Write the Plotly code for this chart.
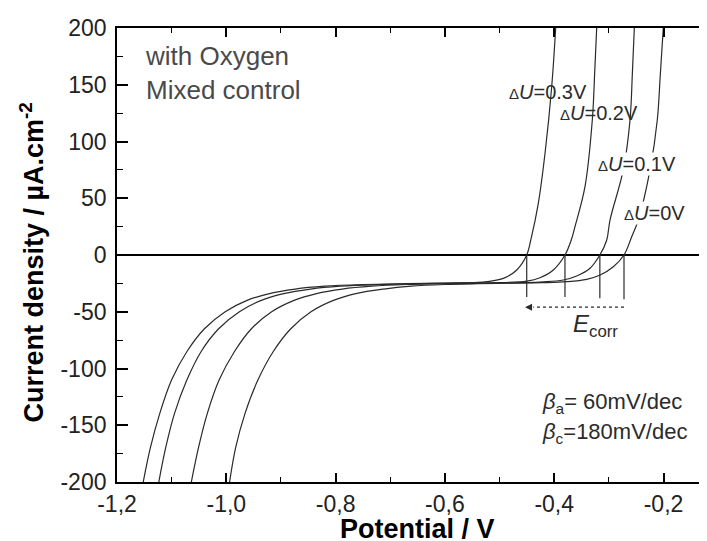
import plotly.graph_objects as go

# ---------------- data ----------------
x_tick_vals = [-1.2, -1.0, -0.8, -0.6, -0.4, -0.2]
x_tick_text = ["-1,2", "-1,0", "-0,8", "-0,6", "-0,4", "-0,2"]
y_tick_vals = [-200, -150, -100, -50, 0, 50, 100, 150, 200]
y_tick_text = ["-200", "-150", "-100", "-50", "0", "50", "100", "150", "200"]

# dU = 0.3 V
pot_03 = [-1.152, -1.139, -1.122, -1.100, -1.072, -1.040, -1.002, -0.962, -0.921, -0.874,
          -0.820, -0.75, -0.67, -0.60, -0.54, -0.5235, -0.4931, -0.4686, -0.4503,
          -0.4425, -0.4291, -0.4168, -0.4046, -0.3973]
cur_03 = [-200, -170, -140, -110, -85, -65, -50, -40, -34, -30,
          -27.5, -26.0, -25.2, -24.7, -24.2, -23.5, -20.6, -13.2, 0,
          14, 45.5, 89.6, 148.3, 200]

# dU = 0.2 V
pot_02 = [-1.1235, -1.111, -1.095, -1.072, -1.046, -1.014, -0.976, -0.936, -0.895, -0.846,
          -0.792, -0.72, -0.64, -0.56, -0.50, -0.45, -0.426, -0.4016, -0.3803,
          -0.369, -0.362, -0.3437, -0.3303, -0.326, -0.3223]
cur_02 = [-200, -170, -140, -110, -85, -65, -50, -40, -34, -30,
          -27.5, -26.0, -25.2, -24.8, -24.4, -23.0, -20.0, -13.2, 0,
          13, 25, 60.2, 119, 160, 200]

# dU = 0.1 V
pot_01 = [-1.064, -1.051, -1.035, -1.013, -0.985, -0.954, -0.917, -0.876, -0.835, -0.788,
          -0.734, -0.67, -0.60, -0.53, -0.46, -0.42, -0.3833, -0.3588, -0.3345, -0.3165,
          -0.304, -0.2979, -0.2736, -0.2613, -0.257, -0.2534]
cur_01 = [-200, -170, -140, -110, -85, -65, -50, -40, -34, -30,
          -27.5, -26.0, -25.2, -24.8, -24.4, -23.7, -22.0, -18.5, -11.7, 0,
          13, 30.8, 74.9, 119, 160, 200]

# dU = 0 V
pot_00 = [-0.994, -0.983, -0.966, -0.942, -0.914, -0.882, -0.845, -0.804, -0.763, -0.712,
          -0.662, -0.60, -0.54, -0.48, -0.42, -0.377, -0.3405, -0.316, -0.2918, -0.2723,
          -0.2582, -0.246, -0.2247, -0.2114, -0.206, -0.2004]
cur_00 = [-200, -170, -140, -110, -85, -65, -50, -40, -34, -30,
          -27.5, -26.0, -25.3, -24.9, -24.4, -23.5, -21.4, -17.6, -10.3, 0,
          16, 31, 75, 119, 158, 200]

# corrosion potentials and the lower ends of their marker lines
e_corr = [-0.2723, -0.3165, -0.3803, -0.4503]
e_corr_low = [-39, -38, -37, -37]
arrow_y = -46

FONT = "Liberation Sans, Arial, Helvetica, sans-serif"
LINE = "#2a2a2a"

fig = go.Figure()

for px, cy in [(pot_03, cur_03), (pot_02, cur_02), (pot_01, cur_01), (pot_00, cur_00)]:
    fig.add_trace(go.Scatter(x=px, y=cy, mode="lines",
                             line=dict(color=LINE, width=1.2, shape="spline", smoothing=1.0),
                             hoverinfo="skip", showlegend=False))

# vertical markers at E_corr
vx, vy = [], []
for e, lo in zip(e_corr, e_corr_low):
    vx += [e, e, None]
    vy += [0, lo, None]
fig.add_trace(go.Scatter(x=vx, y=vy, mode="lines", line=dict(color=LINE, width=1.2),
                         hoverinfo="skip", showlegend=False))

# dotted arrow shaft
fig.add_trace(go.Scatter(x=[e_corr[0], e_corr[-1] + 0.012], y=[arrow_y, arrow_y], mode="lines",
                         line=dict(color=LINE, width=1.2, dash="3px,3px"),
                         hoverinfo="skip", showlegend=False))
fig.add_annotation(x=e_corr[-1] - 0.003, y=arrow_y, ax=e_corr[-1] + 0.012, ay=arrow_y,
                   xref="x", yref="y", axref="x", ayref="y", text="", showarrow=True,
                   arrowhead=2, arrowsize=1.0, arrowwidth=1.4, arrowcolor=LINE)

# ---------------- texts ----------------
TXT = "#2b2b2b"
fig.add_annotation(x=-1.1524, y=160, xref="x", yref="y", xanchor="left", yanchor="middle",
                   text="with Oxygen<br>Mixed control", showarrow=False, align="left",
                   font=dict(family=FONT, size=26, color="#4a4a4a"))

def du(label):
    return "<span style='font-size:15px'>Δ</span><i>U</i>=" + label

fig.add_annotation(x=-0.4864, y=143.6, xanchor="left", yanchor="middle", text=du("0.3V"),
                   showarrow=False, font=dict(family=FONT, size=20, color=TXT))
fig.add_annotation(x=-0.393, y=125, xanchor="left", yanchor="middle", text=du("0.2V"),
                   showarrow=False, font=dict(family=FONT, size=20, color=TXT))
fig.add_annotation(x=-0.3217, y=80, xanchor="left", yanchor="middle", text=du("0.1V"),
                   showarrow=False, bgcolor="white", borderpad=0,
                   font=dict(family=FONT, size=20, color=TXT))
fig.add_annotation(x=-0.2741, y=37, xanchor="left", yanchor="middle", text=du("0V"),
                   showarrow=False, bgcolor="white", borderpad=0,
                   font=dict(family=FONT, size=20, color=TXT))

fig.add_annotation(x=-0.370, y=-62, xanchor="left", yanchor="middle",
                   text="<i>E</i><sub>corr</sub>", showarrow=False,
                   font=dict(family=FONT, size=24, color=TXT))
fig.add_annotation(x=-0.426, y=-130, xanchor="left", yanchor="middle",
                   text="<i>β</i><sub>a</sub>= 60mV/dec", showarrow=False,
                   font=dict(family=FONT, size=22, color=TXT))
fig.add_annotation(x=-0.426, y=-157, xanchor="left", yanchor="middle",
                   text="<i>β</i><sub>c</sub>=180mV/dec", showarrow=False,
                   font=dict(family=FONT, size=22, color=TXT))

# axis titles
fig.add_annotation(x=0.503, y=-0.104, xref="paper", yref="paper", xanchor="center",
                   yanchor="middle", text="<b>Potential / V</b>", showarrow=False,
                   font=dict(family=FONT, size=27, color="black"))
fig.add_annotation(x=-0.142, y=0.4835, xref="paper", yref="paper", xanchor="center",
                   yanchor="middle", textangle=-90,
                   text="<b>Current density / µA.cm<sup>-2</sup></b>", showarrow=False,
                   font=dict(family=FONT, size=27, color="black"))

fig.update_xaxes(range=[-1.2, -0.1058], tickvals=x_tick_vals, ticktext=x_tick_text,
                 ticks="inside", ticklen=9, tickwidth=1.5, tickcolor="black",
                 showline=True, linewidth=1.8, linecolor="black", mirror="ticks",
                 showgrid=False, zeroline=False, ticklabelstandoff=0,
                 tickfont=dict(family=FONT, size=23, color="#222"),
                 minor=dict(dtick=0.1, tick0=-1.2, ticks="inside", ticklen=5, tickwidth=1.3,
                            tickcolor="black", showgrid=False))
fig.update_yaxes(range=[-200, 200], tickvals=y_tick_vals, ticktext=y_tick_text,
                 ticks="inside", ticklen=11, tickwidth=1.5, tickcolor="black",
                 showline=True, linewidth=1.8, linecolor="black", mirror=False,
                 showgrid=False, zeroline=True, zerolinecolor="black", zerolinewidth=1.6,
                 ticklabelstandoff=4,
                 tickfont=dict(family=FONT, size=23, color="#222"),
                 minor=dict(dtick=25, tick0=0, ticks="inside", ticklen=6, tickwidth=1.3,
                            tickcolor="black", showgrid=False))

# the page has an 8px body margin: size the figure so the plot area lands where the
# reference has it (the right end of the axes runs off the window, as in the reference)
fig.update_layout(width=707, height=533, margin=dict(l=109, r=0, t=20, b=59),
                  plot_bgcolor="white", paper_bgcolor="white", showlegend=False)

fig.write_html("out.html")
